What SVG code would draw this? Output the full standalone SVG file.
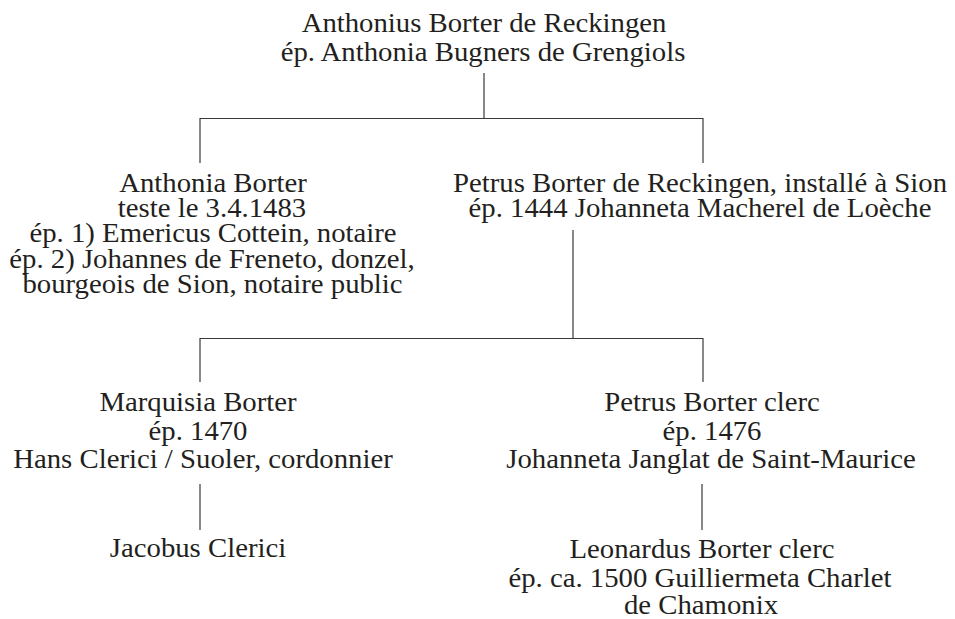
<svg xmlns="http://www.w3.org/2000/svg" width="955" height="619" viewBox="0 0 955 619">
<style>
.t{font-family:"Liberation Serif","Times New Roman",serif;font-size:27px;fill:#231f20;text-anchor:middle}
.c{fill:none;stroke:#3a3a3a;stroke-width:1.2}
</style>
<rect width="955" height="619" fill="#ffffff"/>
<g id="connectors" class="c">
<path d="M484 73V118.5M200 118.5H703M200 118V163M703 118V163"/>
<path d="M573 230V338.5M200 338.5H703M200 338V382M703 338V382"/>
<path d="M200 484V530M702 484V530"/>
</g>
<g id="n-anthonius">
<text class="t" transform="translate(484,0) scale(1.065,1)" y="32">Anthonius Borter de Reckingen</text>
<text class="t" transform="translate(483,0) scale(1.065,1)" y="61">ép. Anthonia Bugners de Grengiols</text>
</g>
<g id="n-anthonia">
<text class="t" transform="translate(213,0) scale(1.065,1)" y="192">Anthonia Borter</text>
<text class="t" transform="translate(212,0) scale(1.065,1)" y="217">teste le 3.4.1483</text>
<text class="t" transform="translate(213,0) scale(1.065,1)" y="242.5">ép. 1) Emericus Cottein, notaire</text>
<text class="t" transform="translate(212,0) scale(1.065,1)" y="268">ép. 2) Johannes de Freneto, donzel,</text>
<text class="t" transform="translate(212.5,0) scale(1.065,1)" y="293">bourgeois de Sion, notaire public</text>
</g>
<g id="n-petrus">
<text class="t" transform="translate(700,0) scale(1.065,1)" y="192">Petrus Borter de Reckingen, installé à Sion</text>
<text class="t" transform="translate(700,0) scale(1.065,1)" y="217">ép. 1444 Johanneta Macherel de Loèche</text>
</g>
<g id="n-marquisia">
<text class="t" transform="translate(198,0) scale(1.065,1)" y="411">Marquisia Borter</text>
<text class="t" transform="translate(198,0) scale(1.065,1)" y="440">ép. 1470</text>
<text class="t" transform="translate(203,0) scale(1.065,1)" y="468">Hans Clerici / Suoler, cordonnier</text>
</g>
<g id="n-petrus-clerc">
<text class="t" transform="translate(712,0) scale(1.065,1)" y="411">Petrus Borter clerc</text>
<text class="t" transform="translate(712,0) scale(1.065,1)" y="440">ép. 1476</text>
<text class="t" transform="translate(711,0) scale(1.065,1)" y="468">Johanneta Janglat de Saint-Maurice</text>
</g>
<g id="n-jacobus">
<text class="t" transform="translate(198,0) scale(1.065,1)" y="557">Jacobus Clerici</text>
</g>
<g id="n-leonardus">
<text class="t" transform="translate(702,0) scale(1.065,1)" y="558">Leonardus Borter clerc</text>
<text class="t" transform="translate(700,0) scale(1.065,1)" y="587">ép. ca. 1500 Guilliermeta Charlet</text>
<text class="t" transform="translate(701,0) scale(1.065,1)" y="614">de Chamonix</text>
</g>
</svg>
